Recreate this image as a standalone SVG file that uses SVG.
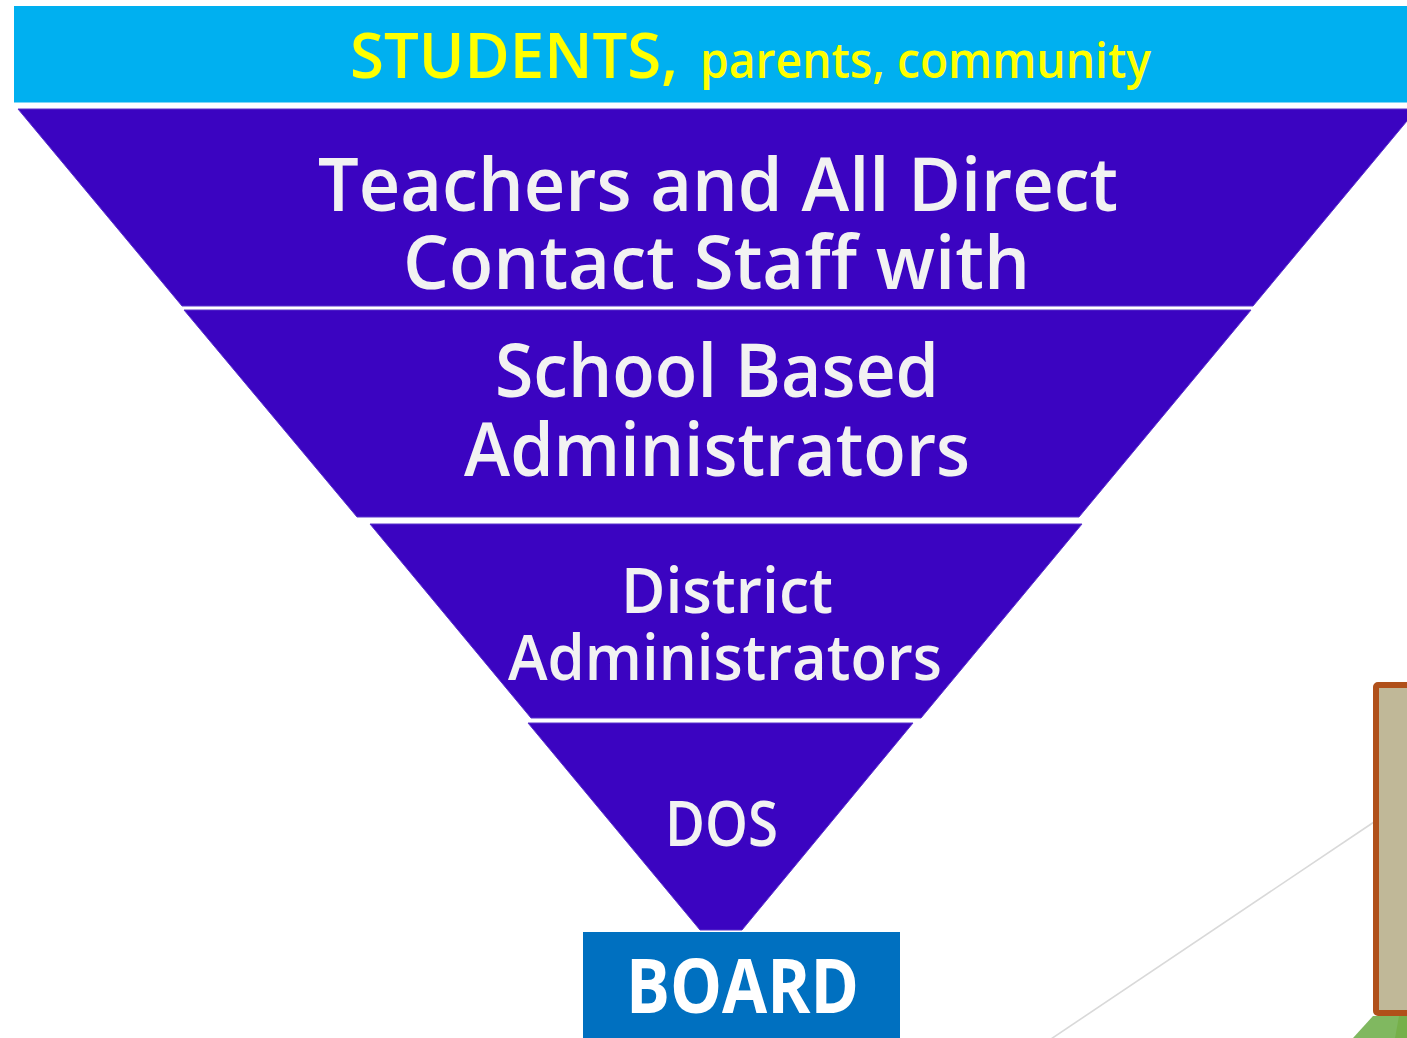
<svg xmlns="http://www.w3.org/2000/svg" width="1407" height="1038" viewBox="0 0 1407 1038">
<style>
.tier{fill:#3B04C1;stroke:#5A32CC;stroke-width:1}
.wt{fill:#F2F2F2;font-family:"Open Sans","DejaVu Sans",sans-serif;font-weight:600}
.yt{fill:#FFFF00;font-family:"Open Sans","DejaVu Sans",sans-serif;font-weight:600}
</style>
<rect width="1407" height="1038" fill="#FFFFFF"/>
<g id="connectors">
<line x1="1374" y1="822" x2="1048" y2="1041" stroke="#D9D9D9" stroke-width="1.6"/>
</g>
<g id="side-box">
<rect x="1376" y="685" width="60" height="328" rx="2" fill="#C0B898" stroke="#B0501A" stroke-width="6"/>
<polygon points="1373,1016 1407,1016 1407,1038 1353,1038" fill="#80B860"/>
<polygon points="1399,1016 1407,1016 1407,1038 1395,1038" fill="#76B04A"/>
</g>
<g id="students">
<rect x="14" y="6" width="1400" height="96.5" fill="#00B0F0"/>
<text class="yt" x="350" y="78" font-size="64" textLength="328" lengthAdjust="spacingAndGlyphs">STUDENTS,</text>
<text class="yt" x="700" y="78" font-size="48" textLength="451" lengthAdjust="spacingAndGlyphs">parents, community</text>
</g>
<g id="teachers">
<polygon class="tier" points="18,109 1417,109 1253,306 182,306"/>
<text class="wt" x="318" y="211" font-size="74" textLength="800" lengthAdjust="spacingAndGlyphs">Teachers and All Direct</text>
<text class="wt" x="403" y="289" font-size="74" textLength="627" lengthAdjust="spacingAndGlyphs">Contact Staff with</text>
</g>
<g id="school-admins">
<polygon class="tier" points="184,310 1251,310 1079,517 357,517"/>
<text class="wt" x="495" y="397" font-size="74" textLength="444" lengthAdjust="spacingAndGlyphs">School Based</text>
<text class="wt" x="464" y="476" font-size="74" textLength="506" lengthAdjust="spacingAndGlyphs">Administrators</text>
</g>
<g id="district-admins">
<polygon class="tier" points="370,524 1082,524 921,718 531,718"/>
<text class="wt" x="621" y="613" font-size="63" textLength="212" lengthAdjust="spacingAndGlyphs">District</text>
<text class="wt" x="508" y="680" font-size="63" textLength="434" lengthAdjust="spacingAndGlyphs">Administrators</text>
</g>
<g id="dos">
<polygon class="tier" points="528,723 913,723 742,930 700,930"/>
<text class="wt" x="665" y="846" font-size="64" textLength="113" lengthAdjust="spacingAndGlyphs">DOS</text>
</g>
<g id="board">
<rect x="583" y="932" width="317" height="110" fill="#0070C0"/>
<text x="626" y="1013" font-size="76" textLength="233" lengthAdjust="spacingAndGlyphs" fill="#FFFFFF" font-family="Open Sans, DejaVu Sans, sans-serif" font-weight="700">BOARD</text>
</g>
</svg>
